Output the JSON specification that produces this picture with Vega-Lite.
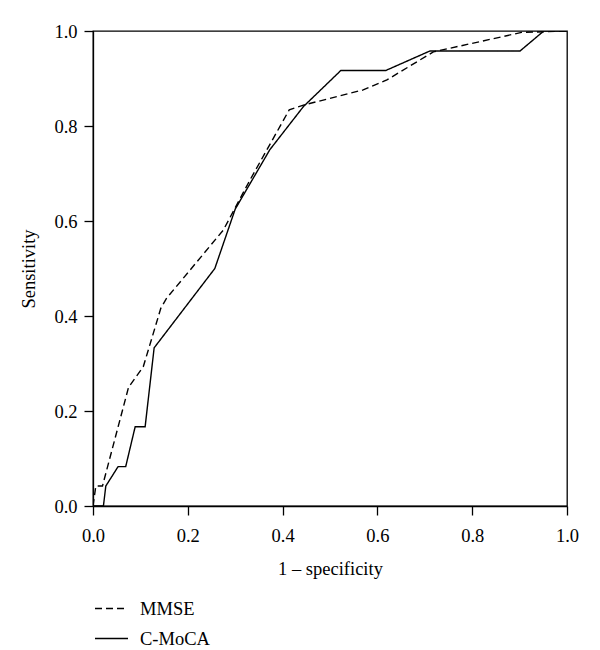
{
  "$schema": "https://vega.github.io/schema/vega-lite/v6.json",
  "width": 474,
  "height": 475,
  "autosize": {"type": "none"},
  "padding": {"left": 93, "top": 31, "right": 33, "bottom": 144},
  "background": "white",
  "config": {
    "font": "Liberation Serif",
    "view": {"stroke": "black", "strokeWidth": 1.3},
    "axis": {
      "domainColor": "black", "domainWidth": 1.3,
      "tickColor": "black", "tickWidth": 1.3, "tickSize": 9,
      "labelFont": "Liberation Serif", "labelFontSize": 18.5, "labelColor": "black", "labelFlush": false,
      "titleFont": "Liberation Serif", "titleFontSize": 18.5, "titleFontWeight": "normal", "titleColor": "black",
      "grid": false
    },
    "legend": {
      "labelFont": "Liberation Serif", "labelFontSize": 18.5, "labelColor": "black"
    }
  },
  "data": {
    "values": [
      {"test": "MMSE", "i": 0, "fpr": 0.0, "tpr": 0.0},
      {"test": "MMSE", "i": 1, "fpr": 0.006, "tpr": 0.042},
      {"test": "MMSE", "i": 2, "fpr": 0.02, "tpr": 0.042},
      {"test": "MMSE", "i": 3, "fpr": 0.075, "tpr": 0.25},
      {"test": "MMSE", "i": 4, "fpr": 0.106, "tpr": 0.293},
      {"test": "MMSE", "i": 5, "fpr": 0.143, "tpr": 0.416},
      {"test": "MMSE", "i": 6, "fpr": 0.155, "tpr": 0.437},
      {"test": "MMSE", "i": 7, "fpr": 0.275, "tpr": 0.581},
      {"test": "MMSE", "i": 8, "fpr": 0.331, "tpr": 0.686},
      {"test": "MMSE", "i": 9, "fpr": 0.414, "tpr": 0.834},
      {"test": "MMSE", "i": 10, "fpr": 0.444, "tpr": 0.844},
      {"test": "MMSE", "i": 11, "fpr": 0.57, "tpr": 0.876},
      {"test": "MMSE", "i": 12, "fpr": 0.62, "tpr": 0.897},
      {"test": "MMSE", "i": 13, "fpr": 0.718, "tpr": 0.956},
      {"test": "MMSE", "i": 14, "fpr": 0.904, "tpr": 0.997},
      {"test": "MMSE", "i": 15, "fpr": 1.0, "tpr": 1.0},
      {"test": "C-MoCA", "i": 0, "fpr": 0.0, "tpr": 0.0},
      {"test": "C-MoCA", "i": 1, "fpr": 0.022, "tpr": 0.0},
      {"test": "C-MoCA", "i": 2, "fpr": 0.027, "tpr": 0.042},
      {"test": "C-MoCA", "i": 3, "fpr": 0.053, "tpr": 0.083},
      {"test": "C-MoCA", "i": 4, "fpr": 0.069, "tpr": 0.083},
      {"test": "C-MoCA", "i": 5, "fpr": 0.089, "tpr": 0.167},
      {"test": "C-MoCA", "i": 6, "fpr": 0.11, "tpr": 0.167},
      {"test": "C-MoCA", "i": 7, "fpr": 0.129, "tpr": 0.333},
      {"test": "C-MoCA", "i": 8, "fpr": 0.257, "tpr": 0.5},
      {"test": "C-MoCA", "i": 9, "fpr": 0.3, "tpr": 0.625},
      {"test": "C-MoCA", "i": 10, "fpr": 0.373, "tpr": 0.75},
      {"test": "C-MoCA", "i": 11, "fpr": 0.444, "tpr": 0.841},
      {"test": "C-MoCA", "i": 12, "fpr": 0.523, "tpr": 0.917},
      {"test": "C-MoCA", "i": 13, "fpr": 0.618, "tpr": 0.917},
      {"test": "C-MoCA", "i": 14, "fpr": 0.711, "tpr": 0.958},
      {"test": "C-MoCA", "i": 15, "fpr": 0.901, "tpr": 0.958},
      {"test": "C-MoCA", "i": 16, "fpr": 0.951, "tpr": 1.0},
      {"test": "C-MoCA", "i": 17, "fpr": 1.0, "tpr": 1.0}
    ]
  },
  "mark": {"type": "line", "color": "black", "strokeWidth": 1.4, "clip": true},
  "encoding": {
    "x": {
      "field": "fpr", "type": "quantitative",
      "scale": {"domain": [0, 1], "nice": false, "zero": false},
      "axis": {"title": "1 – specificity", "values": [0, 0.2, 0.4, 0.6, 0.8, 1.0], "format": ".1f", "labelPadding": 11, "titlePadding": 15}
    },
    "y": {
      "field": "tpr", "type": "quantitative",
      "scale": {"domain": [0, 1], "nice": false, "zero": false},
      "axis": {"title": "Sensitivity", "values": [0, 0.2, 0.4, 0.6, 0.8, 1.0], "format": ".1f", "labelPadding": 7, "titlePadding": 15}
    },
    "strokeDash": {
      "field": "test", "type": "nominal",
      "scale": {"domain": ["MMSE", "C-MoCA"], "range": [[7, 4], [1, 0]]},
      "legend": {
        "title": null, "orient": "none", "legendX": 1, "legendY": 560,
        "symbolType": "stroke", "symbolSize": 1089, "symbolStrokeWidth": 1.4, "symbolStrokeColor": "black",
        "labelOffset": 11, "padding": 0, "rowPadding": 3
      }
    },
    "order": {"field": "i", "type": "quantitative"}
  }
}
